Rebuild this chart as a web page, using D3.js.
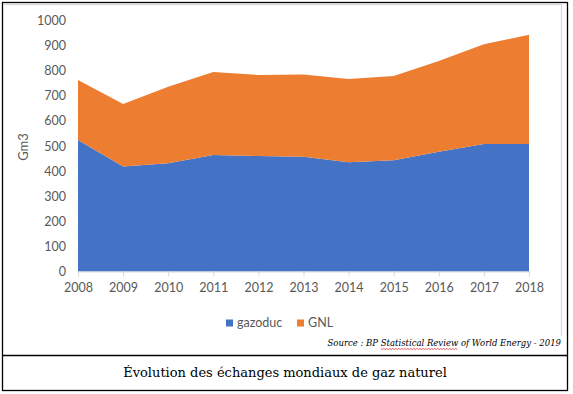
<!DOCTYPE html>
<html>
<head>
<meta charset="utf-8">
<script src="https://cdn.jsdelivr.net/npm/d3@7"></script>
<style>
  body { margin: 0; background: #fff; }
  svg { display: block; }
</style>
</head>
<body>
<div id="chart"></div>
<script>
// data (Gm3)
var years = [2008, 2009, 2010, 2011, 2012, 2013, 2014, 2015, 2016, 2017, 2018];
var gazoduc = [524, 418, 431, 464, 460, 457, 435, 443, 477, 508, 508];
var gnl = [239, 249, 305, 331, 323, 328, 332, 336, 362, 397, 435];
var seriesNames = ["gazoduc", "GNL"];
var yTicks = [0, 100, 200, 300, 400, 500, 600, 700, 800, 900, 1000];

var W = 573, H = 394;
var margin = {top: 20.5, right: 44, bottom: 122.5, left: 78},
    width = W - margin.left - margin.right,
    height = H - margin.top - margin.bottom;

var svg = d3.select("#chart")
  .append("svg")
    .attr("width", W)
    .attr("height", H);

// frames
svg.append("rect")
  .attr("x", 2.5).attr("y", 2.5)
  .attr("width", 565).attr("height", 388)
  .attr("fill", "none").attr("stroke", "#000").attr("stroke-width", 1.3);
svg.append("path")
  .attr("d", "M4,4.5H561.5V336")
  .attr("fill", "none").attr("stroke", "#d9d9d9").attr("stroke-width", 1.3);
svg.append("line")
  .attr("x1", 2.5).attr("x2", 567.5).attr("y1", 355.5).attr("y2", 355.5)
  .attr("stroke", "#000").attr("stroke-width", 1.3);

var g = svg.append("g")
  .attr("transform", "translate(" + margin.left + "," + margin.top + ")");

var table = years.map(function (y, i) {
  return {year: y, gazoduc: gazoduc[i], GNL: gnl[i]};
});

var x = d3.scaleLinear()
  .domain([years[0], years[years.length - 1]])
  .range([0, width]);

var y = d3.scaleLinear()
  .domain([0, 1000])
  .range([height, 0]);

var color = d3.scaleOrdinal()
  .domain(seriesNames)
  .range(["#4472c4", "#ed7d31"]);

var stacked = d3.stack().keys(seriesNames)(table);

var area = d3.area()
  .x(function (d) { return x(d.data.year); })
  .y0(function (d) { return y(d[0]); })
  .y1(function (d) { return y(d[1]); });

g.append("g")
  .selectAll("path")
  .data(stacked)
  .enter()
  .append("path")
    .attr("d", area)
    .attr("fill", function (d) { return color(d.key); });

// X axis
var xAxis = g.append("g")
  .attr("transform", "translate(0," + height + ")")
  .call(d3.axisBottom(x).tickValues(years).tickFormat(d3.format("d")).tickSize(5).tickPadding(7));
xAxis.select(".domain").attr("stroke", "#d9d9d9");
xAxis.selectAll(".tick line").attr("stroke", "#d9d9d9");
xAxis.selectAll("text")
  .attr("fill", "#595959")
  .style("font-family", "Lato, 'Open Sans', sans-serif")
  .style("font-size", "12.5px");

// Y axis
var yAxis = g.append("g")
  .call(d3.axisLeft(y).tickValues(yTicks).tickFormat(d3.format("d")).tickSize(0).tickPadding(12));
yAxis.select(".domain").remove();
yAxis.selectAll("text")
  .attr("fill", "#595959")
  .style("font-family", "Lato, 'Open Sans', sans-serif")
  .style("font-size", "12.5px");

svg.append("text")
  .attr("transform", "translate(28,147) rotate(-90)")
  .attr("text-anchor", "middle")
  .attr("fill", "#595959")
  .style("font-family", "Lato, 'Open Sans', sans-serif")
  .style("font-size", "13px")
  .text("Gm3");

// legend
var legend = svg.append("g").attr("transform", "translate(226,323)");
var lx = [0, 71];
seriesNames.forEach(function (name, i) {
  var item = legend.append("g").attr("transform", "translate(" + lx[i] + ",0)");
  item.append("rect")
    .attr("x", 0).attr("y", -3.5).attr("width", 7).attr("height", 7)
    .attr("fill", color(name));
  item.append("text")
    .attr("x", 11).attr("y", 0).attr("dy", "0.35em")
    .attr("fill", "#595959")
    .style("font-family", "Lato, 'Open Sans', sans-serif")
    .style("font-size", "12.5px")
    .text(name);
});

// source
var srcText = "Source : BP Statistical Review of World Energy - 2019";
var src = svg.append("text")
  .attr("x", 561).attr("y", 346)
  .attr("text-anchor", "end")
  .attr("fill", "#000")
  .style("font-family", "'DejaVu Serif', serif")
  .style("font-style", "italic")
  .style("font-size", "8.5px")
  .text(srcText);

// red spell-check squiggle under "Statistical Review"
var node = src.node();
var total = node.getComputedTextLength();
var start = 561 - total;
var i0 = srcText.indexOf("Statistical");
var i1 = srcText.indexOf(" of World");
var sx0 = start + node.getSubStringLength(0, i0);
var sx1 = start + node.getSubStringLength(0, i1);
var pts = d3.range(sx0, sx1, 1.5).map(function (px, k) { return [px, 348.5 + (k % 2 ? 1 : 0)]; });
svg.append("path")
  .attr("d", d3.line()(pts))
  .attr("fill", "none")
  .attr("stroke", "#e03030")
  .attr("stroke-width", 0.8);

// caption
svg.append("text")
  .attr("x", 285).attr("y", 377)
  .attr("text-anchor", "middle")
  .attr("fill", "#000")
  .style("font-family", "'DejaVu Serif', serif")
  .style("font-size", "13px")
  .text("Évolution des échanges mondiaux de gaz naturel");
</script>
</body>
</html>
